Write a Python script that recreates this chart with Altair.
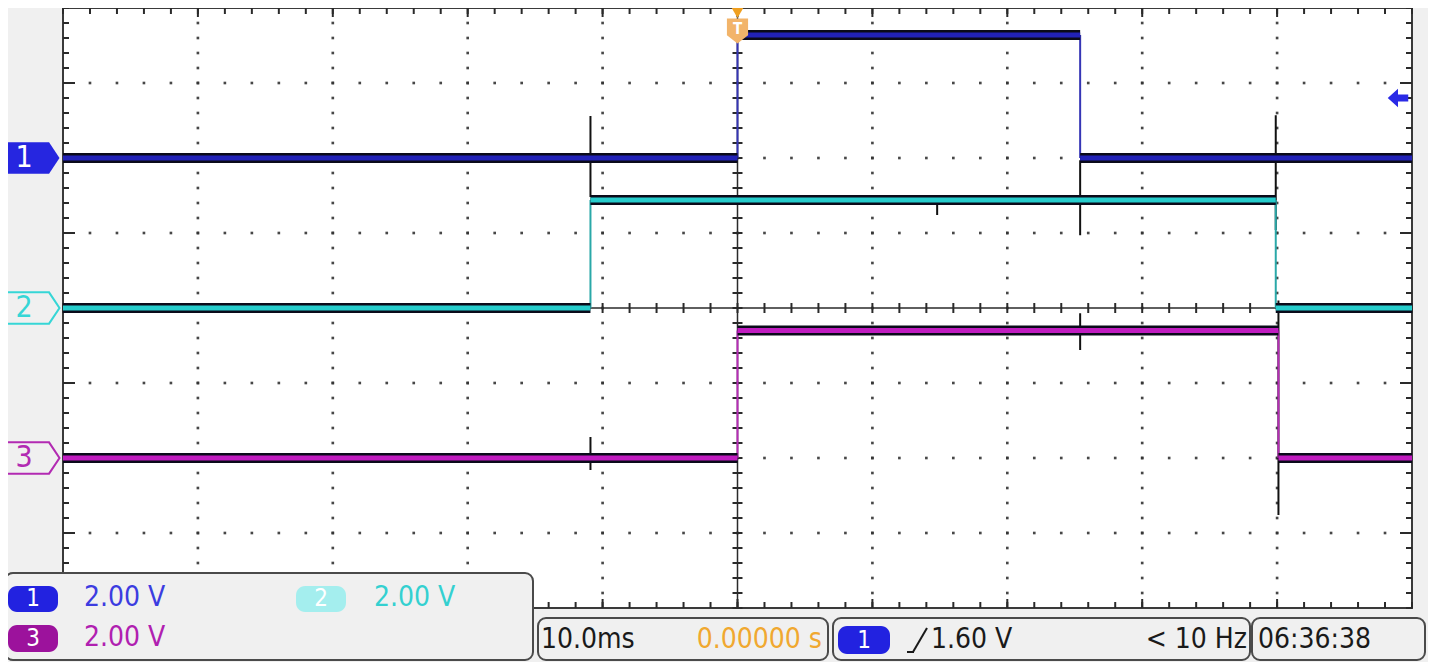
import altair as alt
import pandas as pd
import numpy as np

# ---------------- data ----------------
t_domain = [-50, 50]          # ms (10 ms/div, 10 div)
y_domain = [-4, 4]            # divisions (8 div)
VOLTS_PER_DIV = 2.0

channels = ["1", "2", "3"]
ch_offset_div = [2.0, 0.0, -2.0]

ch1_edges_ms = [-50, 0.0, 25.4, 50]
ch1_levels_v = [0.0, 3.28, 0.0]
ch2_edges_ms = [-50, -10.9, 39.9, 50]
ch2_levels_v = [0.0, 2.88, 0.0]
ch3_edges_ms = [-50, 0.0, 40.1, 50]
ch3_levels_v = [0.0, 3.40, 0.0]

glitch_t_ms = [-10.9, -10.9, 25.4, 25.4, 39.9, 40.1, 14.8]
glitch_top_div = [2.56, -1.72, 1.97, -0.07, 2.57, 0.10, 1.44]
glitch_bot_div = [1.48, -2.16, 0.97, -0.56, 1.04, -2.76, 1.24]

trigger_level_v = 1.60
scale_label = "2.00 V"
timebase_label = "10.0ms"
trigger_pos_label = "0.00000 s"
trigger_level_label = "1.60 V"
freq_label = "< 10 Hz"
clock_label = "06:36:38"

# ---------------- styles ----------------
W, H = 1349, 600
FONT = "DejaVu Sans Condensed, Liberation Sans Narrow, sans-serif"
core_col = {"1": "#2222b8", "2": "#26cccc", "3": "#c01cc0"}
edge_col = {"1": "#3535b5", "2": "#2aa8a8", "3": "#b62cb6"}
marker_col = {"1": "#2626e0", "2": "#36d6d6", "3": "#b22ab2"}
pill_col = {"1": "#2222e0", "2": "#a4eeee", "3": "#9c129c"}
label_col = {"1": "#3c3ce0", "2": "#34d0d0", "3": "#b020b0"}

xs = alt.Scale(domain=t_domain, nice=False, zero=False)
ys = alt.Scale(domain=y_domain, nice=False, zero=False)

# ---------------- tables ----------------
edges = [ch1_edges_ms, ch2_edges_ms, ch3_edges_ms]
levels = [ch1_levels_v, ch2_levels_v, ch3_levels_v]
seg_rows, vert_rows = [], []
for ch, off, e, lv in zip(channels, ch_offset_div, edges, levels):
    ydiv = [off + v / VOLTS_PER_DIV for v in lv]
    for i in range(len(lv)):
        seg_rows.append({"ch": ch, "t0": e[i], "t1": e[i + 1], "y": ydiv[i]})
    for i in range(1, len(lv)):
        vert_rows.append({"ch": ch, "t": e[i], "ya": ydiv[i - 1], "yb": ydiv[i]})
seg = pd.DataFrame(seg_rows)
vert = pd.DataFrame(vert_rows)
glitch = pd.DataFrame({"t": glitch_t_ms, "ya": glitch_top_div, "yb": glitch_bot_div})

x_minor = np.round(np.arange(t_domain[0], t_domain[1] + 0.01, 2.0), 3)
y_minor = np.round(np.arange(y_domain[0], y_domain[1] + 0.001, 0.2), 3)
x_major = np.arange(t_domain[0] + 10, t_domain[1], 10)
y_major = np.arange(y_domain[0] + 1, y_domain[1], 1)

dots = []
for xm in x_major:
    if xm == 0:
        continue
    for yv in y_minor[1:-1]:
        dots.append({"t": xm, "y": yv})
for ym in y_major:
    if ym == 0:
        continue
    for xv in x_minor[1:-1]:
        dots.append({"t": xv, "y": ym})
dots = pd.DataFrame(dots)

xt = pd.DataFrame({"t": x_minor})
yt = pd.DataFrame({"y": y_minor})
xtM = pd.DataFrame({"t": x_major})
ytM = pd.DataFrame({"y": y_major})

X = lambda f: alt.X(f, scale=xs, axis=None)
Y = lambda f: alt.Y(f, scale=ys, axis=None)

layers = []

# dotted grid
layers.append(alt.Chart(dots).mark_square(size=7, color="#333333", opacity=0.9)
              .encode(x=X("t:Q"), y=Y("y:Q")))

# frame ticks
tick_c = "#2a2a2a"
for d, ln in ((xt, 6), (xtM, 9)):
    layers.append(alt.Chart(d).mark_rule(color=tick_c, strokeWidth=2)
                  .encode(x=X("t:Q"), y=alt.value(0), y2=alt.value(ln)))
    layers.append(alt.Chart(d).mark_rule(color=tick_c, strokeWidth=2)
                  .encode(x=X("t:Q"), y=alt.value(H), y2=alt.value(H - ln)))
for d, ln in ((yt, 6), (ytM, 12)):
    layers.append(alt.Chart(d).mark_rule(color=tick_c, strokeWidth=2)
                  .encode(y=Y("y:Q"), x=alt.value(0), x2=alt.value(ln)))
    layers.append(alt.Chart(d).mark_rule(color=tick_c, strokeWidth=2)
                  .encode(y=Y("y:Q"), x=alt.value(W), x2=alt.value(W - ln)))

# center crosshair
layers.append(alt.Chart(pd.DataFrame({"t": [0]})).mark_rule(color=tick_c, strokeWidth=1.5)
              .encode(x=X("t:Q"), y=alt.value(0), y2=alt.value(H)))
layers.append(alt.Chart(pd.DataFrame({"y": [0]})).mark_rule(color=tick_c, strokeWidth=1.5)
              .encode(y=Y("y:Q"), x=alt.value(0), x2=alt.value(W)))
layers.append(alt.Chart(xt).mark_rule(color=tick_c, strokeWidth=2)
              .encode(x=X("t:Q"), y=alt.value(H / 2 - 5), y2=alt.value(H / 2 + 5)))
layers.append(alt.Chart(yt).mark_rule(color=tick_c, strokeWidth=2)
              .encode(y=Y("y:Q"), x=alt.value(W / 2 - 5), x2=alt.value(W / 2 + 5)))

# glitches
layers.append(alt.Chart(glitch).mark_rule(color="#111111", strokeWidth=2)
              .encode(x=X("t:Q"), y=Y("ya:Q"), y2="yb:Q"))

# vertical edges
for ch in channels:
    layers.append(alt.Chart(vert[vert.ch == ch]).mark_rule(color=edge_col[ch], strokeWidth=2)
                  .encode(x=X("t:Q"), y=Y("ya:Q"), y2="yb:Q"))

# horizontal trace levels
for ch in channels:
    d = seg[seg.ch == ch]
    layers.append(alt.Chart(d).mark_rule(color="#0a0a1a", strokeWidth=10, strokeCap="butt")
                  .encode(x=X("t0:Q"), x2="t1:Q", y=Y("y:Q")))
    layers.append(alt.Chart(d).mark_rule(color=core_col[ch], strokeWidth=5, strokeCap="butt")
                  .encode(x=X("t0:Q"), x2="t1:Q", y=Y("y:Q")))

# left channel markers
mk_path = "M-1,-0.57 L0.62,-0.57 L1,0 L0.62,0.57 L-1,0.57 Z"
one = pd.DataFrame({"a": [0]})
for ch, off in zip(channels, ch_offset_div):
    d = pd.DataFrame({"y": [off], "lab": [ch]})
    if ch == "1":
        mk = alt.Chart(d).mark_point(shape=mk_path, size=3025, filled=True,
                                     color=marker_col[ch], opacity=1)
        tc = "white"
    else:
        mk = alt.Chart(d).mark_point(shape=mk_path, size=3025, filled=False,
                                     color=marker_col[ch], strokeWidth=2, opacity=1)
        tc = marker_col[ch]
    layers.append(mk.encode(x=alt.value(-31), y=Y("y:Q")))
    layers.append(alt.Chart(d).mark_text(font=FONT, fontSize=30, color=tc, baseline="middle",
                                         align="center")
                  .encode(x=alt.value(-39), y=Y("y:Q"), text="lab:N"))

# trigger markers
layers.append(alt.Chart(pd.DataFrame({"t": [0]})).mark_point(shape="triangle-down", size=260,
                                                             filled=True, color="#f0a020", opacity=1)
              .encode(x=X("t:Q"), y=alt.value(3)))
layers.append(alt.Chart(pd.DataFrame({"t": [0]})).mark_point(
    shape="M-0.85,-1 L0.85,-1 L0.85,0.35 L0,1 L-0.85,0.35 Z", size=620, filled=True,
    color="#f2b46a", opacity=1).encode(x=X("t:Q"), y=alt.value(23)))
layers.append(alt.Chart(pd.DataFrame({"t": [0]})).mark_text(text="T", font=FONT, fontSize=15,
                                                            fontWeight="bold", color="white",
                                                            baseline="middle")
              .encode(x=X("t:Q"), y=alt.value(21)))
layers.append(alt.Chart(pd.DataFrame({"y": [ch_offset_div[0] + trigger_level_v / VOLTS_PER_DIV]}))
              .mark_point(shape="M-1,0 L0,-0.9 L0,-0.35 L1,-0.35 L1,0.35 L0,0.35 L0,0.9 Z",
                          size=420, filled=True, color="#2a2ae6", opacity=1)
              .encode(x=alt.value(W - 14), y=Y("y:Q")))


# ---------------- status overlays ----------------
def box(x1, x2, y1, y2, fill, stroke=None, r=8):
    kw = dict(cornerRadius=r, fill=fill, opacity=1)
    if stroke:
        kw.update(stroke=stroke, strokeWidth=2)
    return alt.Chart(one).mark_rect(**kw).encode(
        x=alt.value(x1), x2=alt.value(x2), y=alt.value(y1), y2=alt.value(y2))


def txt(s, x, y, color, align="left", size=28):
    return alt.Chart(one).mark_text(text=s, font=FONT, fontSize=size, color=color,
                                    align=align, baseline="middle").encode(
        x=alt.value(x), y=alt.value(y))


# left scale box
layers.append(box(-58, 470, 565, 652, "#f0f0f0", "#4a4a4a", 8))
layers.append(box(-55, -5, 578, 604, pill_col["1"], None, 9))
layers.append(txt("1", -30, 591, "white", "center", 24))
layers.append(txt(scale_label, 21, 590, label_col["1"]))
layers.append(box(233, 283, 578, 604, pill_col["2"], None, 9))
layers.append(txt("2", 258, 591, "white", "center", 24))
layers.append(txt(scale_label, 311, 590, label_col["2"]))
layers.append(box(-55, -5, 617, 644, pill_col["3"], None, 9))
layers.append(txt("3", -30, 631, "white", "center", 24))
layers.append(txt(scale_label, 21, 630, label_col["3"]))

# bottom bar
layers.append(box(475, 765, 610, 652, "#f0f0f0", "#4a4a4a", 8))
layers.append(txt(timebase_label, 478, 632, "#1a1a1a"))
layers.append(txt(trigger_pos_label, 759, 632, "#f0a830", "right"))
layers.append(box(770, 1187, 610, 652, "#f0f0f0", "#4a4a4a", 8))
layers.append(box(775, 827, 618, 646, pill_col["1"], None, 9))
layers.append(txt("1", 801, 633, "white", "center", 24))
layers.append(alt.Chart(one).mark_rule(color="#1a1a1a", strokeWidth=2).encode(
    x=alt.value(844), x2=alt.value(851), y=alt.value(644), y2=alt.value(644)))
layers.append(alt.Chart(one).mark_rule(color="#1a1a1a", strokeWidth=2).encode(
    x=alt.value(850), x2=alt.value(864), y=alt.value(644), y2=alt.value(620)))
layers.append(txt(trigger_level_label, 868, 632, "#1a1a1a"))
layers.append(txt(freq_label, 1184, 632, "#1a1a1a", "right"))
layers.append(box(1189, 1362, 610, 652, "#f0f0f0", "#4a4a4a", 8))
layers.append(txt(clock_label, 1195, 632, "#1a1a1a"))

chart = alt.layer(*layers).properties(
    width=W, height=H,
    autosize=alt.AutoSizeParams(type="none"),
    padding={"left": 55, "top": 0, "right": 16, "bottom": 54},
    background="#f0f0f0",
).configure_view(stroke="#3a3a3a", strokeWidth=2, fill="white")

chart.save("out.html", embed_options={"renderer": "svg", "actions": False})
